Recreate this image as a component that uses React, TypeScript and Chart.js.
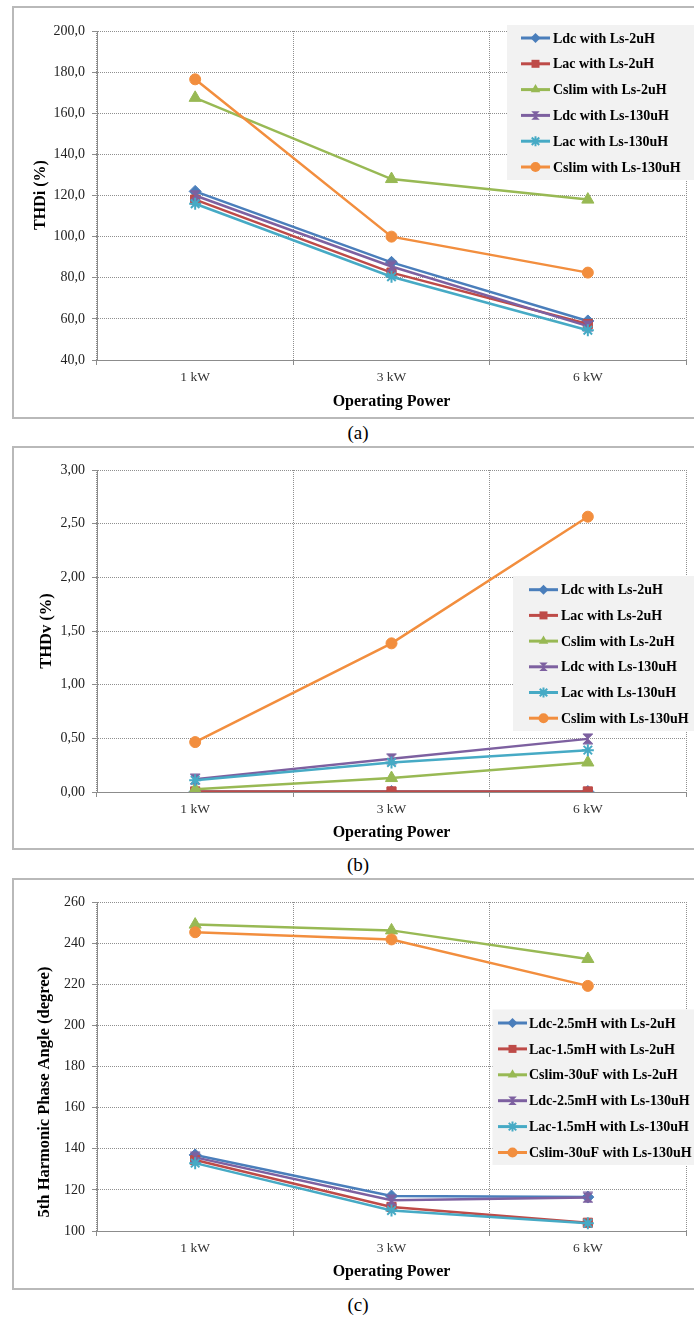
import React, { useEffect, useRef } from 'react';
import { Chart, registerables } from 'chart.js';

Chart.register(...registerables);

const FONT = "'Liberation Serif', 'Times New Roman', serif";

const categories = ['1 kW', '3 kW', '6 kW'];

const namesAB = [
  'Ldc with Ls-2uH',
  'Lac with Ls-2uH',
  'Cslim with Ls-2uH',
  'Ldc with Ls-130uH',
  'Lac with Ls-130uH',
  'Cslim with Ls-130uH',
];
const namesC = [
  'Ldc-2.5mH with Ls-2uH',
  'Lac-1.5mH with Ls-2uH',
  'Cslim-30uF with Ls-2uH',
  'Ldc-2.5mH with Ls-130uH',
  'Lac-1.5mH with Ls-130uH',
  'Cslim-30uF with Ls-130uH',
];

// (a) THDi (%)
const thdiLdc2 = [122, 87.5, 59];
const thdiLac2 = [118, 82.5, 57.5];
const thdiCslim2 = [167.5, 128, 118];
const thdiLdc130 = [120, 85.5, 56.5];
const thdiLac130 = [116, 80.5, 54.5];
const thdiCslim130 = [176.5, 100, 82.5];

// (b) THDv (%)
const thdvLdc2 = [0.004, 0.004, 0.004];
const thdvLac2 = [0.005, 0.005, 0.005];
const thdvCslim2 = [0.025, 0.13, 0.275];
const thdvLdc130 = [0.12, 0.31, 0.495];
const thdvLac130 = [0.11, 0.275, 0.39];
const thdvCslim130 = [0.465, 1.385, 2.565];

// (c) 5th harmonic phase angle (degree)
const phLdc2 = [137, 117, 116.5];
const phLac2 = [134.5, 111.7, 104];
const phCslim2 = [249, 246.2, 232.3];
const phLdc130 = [135.8, 115, 116.3];
const phLac130 = [133, 110, 103.8];
const phCslim130 = [245.3, 241.8, 219.2];

const COLORS = ['#4a7ebb', '#be4b48', '#98b954', '#7d60a0', '#46aac5', '#f28e3e'];
const MARKERS = ['rectRot', 'rect', 'triangle', 'hourglass', 'star', 'circle'];
const RADII: Record<string, number> = { rectRot: 6, rect: 6.5, triangle: 7, hourglass: 6, star: 6, circle: 5.5 };

function makeHourglass(color: string, size: number) {
  const c = document.createElement('canvas');
  c.width = size;
  c.height = size;
  const g = c.getContext('2d')!;
  g.fillStyle = color;
  g.strokeStyle = color;
  g.lineWidth = 1;
  g.beginPath();
  g.moveTo(1, 1);
  g.lineTo(size - 1, 1);
  g.lineTo(1, size - 1);
  g.lineTo(size - 1, size - 1);
  g.closePath();
  g.fill();
  g.stroke();
  return c;
}

function drawMarker(ctx: CanvasRenderingContext2D, style: string, x: number, y: number, color: string, r: number) {
  ctx.save();
  ctx.fillStyle = color;
  ctx.strokeStyle = color;
  ctx.lineWidth = 1;
  ctx.beginPath();
  if (style === 'rectRot') {
    ctx.moveTo(x, y - r);
    ctx.lineTo(x + r, y);
    ctx.lineTo(x, y + r);
    ctx.lineTo(x - r, y);
    ctx.closePath();
    ctx.fill();
  } else if (style === 'rect') {
    const s = r * 0.8;
    ctx.rect(x - s, y - s, 2 * s, 2 * s);
    ctx.fill();
  } else if (style === 'triangle') {
    ctx.moveTo(x, y - r);
    ctx.lineTo(x + r * 0.87, y + r * 0.5);
    ctx.lineTo(x - r * 0.87, y + r * 0.5);
    ctx.closePath();
    ctx.fill();
  } else if (style === 'hourglass') {
    const s = r * 0.85;
    ctx.moveTo(x - s, y - s);
    ctx.lineTo(x + s, y - s);
    ctx.lineTo(x - s, y + s);
    ctx.lineTo(x + s, y + s);
    ctx.closePath();
    ctx.fill();
  } else if (style === 'star') {
    ctx.lineWidth = 2;
    const s = r * 0.75;
    ctx.moveTo(x, y - r);
    ctx.lineTo(x, y + r);
    ctx.moveTo(x - s, y - s);
    ctx.lineTo(x + s, y + s);
    ctx.moveTo(x + s, y - s);
    ctx.lineTo(x - s, y + s);
    ctx.stroke();
  } else {
    ctx.arc(x, y, r, 0, Math.PI * 2);
    ctx.fill();
  }
  ctx.restore();
}

type LegendSpec = { x: number; y: number; w: number; h: number; row0: number; rowStep: number; sx0: number; sx1: number; tx: number };

type Spec = {
  frameTop: number;
  frameBottom: number;
  plotTop: number;
  plotBottom: number;
  yMin: number;
  yMax: number;
  yStep: number;
  decimals: number;
  yTitle: string;
  yTitleX: number;
  yTitleY: number;
  yTitleSize: number;
  xTitleY: number;
  names: string[];
  series: number[][];
  legend: LegendSpec;
  caption: string;
  captionY: number;
};

const specs: Spec[] = [
  {
    frameTop: 6, frameBottom: 419, plotTop: 31, plotBottom: 360,
    yMin: 40, yMax: 200, yStep: 20, decimals: 1,
    yTitle: 'THDi (%)', yTitleX: 41, yTitleY: 195, yTitleSize: 16, xTitleY: 401.5,
    names: namesAB,
    series: [thdiLdc2, thdiLac2, thdiCslim2, thdiLdc130, thdiLac130, thdiCslim130],
    legend: { x: 507, y: 25, w: 200, h: 155, row0: 38, rowStep: 25.8, sx0: 521, sx1: 550, tx: 553 },
    caption: '(a)', captionY: 433,
  },
  {
    frameTop: 446, frameBottom: 850, plotTop: 470, plotBottom: 792,
    yMin: 0, yMax: 3, yStep: 0.5, decimals: 2,
    yTitle: 'THDv (%)', yTitleX: 47, yTitleY: 631, yTitleSize: 16.5, xTitleY: 833,
    names: namesAB,
    series: [thdvLdc2, thdvLac2, thdvCslim2, thdvLdc130, thdvLac130, thdvCslim130],
    legend: { x: 513, y: 576, w: 200, h: 155, row0: 589.7, rowStep: 25.7, sx0: 529, sx1: 558, tx: 561 },
    caption: '(b)', captionY: 865,
  },
  {
    frameTop: 878, frameBottom: 1290, plotTop: 902, plotBottom: 1231,
    yMin: 100, yMax: 260, yStep: 20, decimals: 0,
    yTitle: '5th Harmonic Phase Angle (degree)', yTitleX: 45, yTitleY: 1092, yTitleSize: 16.5, xTitleY: 1271.5,
    names: namesC,
    series: [phLdc2, phLac2, phCslim2, phLdc130, phLac130, phCslim130],
    legend: { x: 492.5, y: 1009.5, w: 210, h: 155.5, row0: 1023, rowStep: 25.9, sx0: 498, sx1: 527, tx: 529 },
    caption: '(c)', captionY: 1305,
  },
];

const W = 694;
const AXIS_X = 97;
const PLOT_RIGHT = 688;
const TITLE_SIZE = 16;

function ChartPanel({ spec }: { spec: Spec }) {
  const ref = useRef<HTMLCanvasElement | null>(null);
  const H = spec.frameBottom - spec.frameTop;

  useEffect(() => {
    if (!ref.current) return;
    const top = spec.frameTop;
    const lg = spec.legend;
    const overlayPlugin = {
      id: 'customOverlay',
      afterDraw(chart: any) {
        const ctx: CanvasRenderingContext2D = chart.ctx;
        ctx.save();
        // y-axis title
        ctx.translate(spec.yTitleX, spec.yTitleY - top);
        ctx.rotate(-Math.PI / 2);
        ctx.fillStyle = '#000';
        ctx.font = `bold ${spec.yTitleSize}px ${FONT}`;
        ctx.textAlign = 'center';
        ctx.textBaseline = 'middle';
        ctx.fillText(spec.yTitle, 0, 0);
        ctx.restore();

        ctx.save();
        ctx.fillStyle = '#f2f2f2';
        ctx.fillRect(lg.x, lg.y - top, lg.w, lg.h);
        spec.names.forEach((name, i) => {
          const y = lg.row0 - top + i * lg.rowStep;
          ctx.strokeStyle = COLORS[i];
          ctx.lineWidth = 3;
          ctx.beginPath();
          ctx.moveTo(lg.sx0, y);
          ctx.lineTo(lg.sx1, y);
          ctx.stroke();
          drawMarker(ctx, MARKERS[i], (lg.sx0 + lg.sx1) / 2, y, COLORS[i], MARKERS[i] === 'triangle' ? 5.5 : 5);
          ctx.fillStyle = '#000';
          ctx.font = `bold 14px ${FONT}`;
          ctx.textBaseline = 'middle';
          ctx.textAlign = 'left';
          ctx.fillText(name, lg.tx, y + 1);
        });
        ctx.restore();
      },
    };

    const datasets = spec.series.map((data, i) => {
      const m = MARKERS[i];
      return {
        label: spec.names[i],
        data,
        borderColor: COLORS[i],
        backgroundColor: COLORS[i],
        borderWidth: 2.5,
        tension: 0,
        pointStyle: m === 'hourglass' ? makeHourglass(COLORS[i], 12) : m,
        pointRadius: RADII[m],
        pointBorderWidth: m === 'star' ? 2 : 1,
        pointBackgroundColor: COLORS[i],
        pointBorderColor: COLORS[i],
        order: 10 - i,
      };
    });

    const xHeight = H - (spec.plotBottom - top);
    const lh = TITLE_SIZE * 1.2;

    const chart = new Chart(ref.current, {
      type: 'line',
      data: { labels: categories, datasets: datasets as any },
      options: {
        animation: false,
        responsive: false,
        maintainAspectRatio: false,
        events: [],
        layout: { padding: { top: spec.plotTop - top, right: W - PLOT_RIGHT, left: 0, bottom: 0 } },
        plugins: { legend: { display: false }, tooltip: { enabled: false }, title: { display: false } },
        scales: {
          x: {
            type: 'category',
            offset: true,
            afterFit: (s: any) => { s.height = xHeight; },
            grid: {
              offset: true,
              color: '#8f8f8f',
              lineWidth: 1,
              drawTicks: true,
              tickLength: 5,
              tickColor: '#8c8c8c',
              tickBorderDash: [],
            },
            border: { display: true, color: '#8c8c8c', width: 1, dash: [1, 1] },
            ticks: {
              padding: 4,
              color: '#333',
              font: { family: FONT, size: 13.5 },
              maxRotation: 0,
            },
            title: {
              display: true,
              text: 'Operating Power',
              color: '#000',
              font: { family: FONT, size: TITLE_SIZE, weight: 'bold' },
              padding: { top: 0, bottom: spec.frameBottom - spec.xTitleY - lh / 2 },
            },
          },
          y: {
            type: 'linear',
            min: spec.yMin,
            max: spec.yMax,
            afterFit: (s: any) => { s.width = AXIS_X; },
            ticks: {
              stepSize: spec.yStep,
              padding: 7,
              color: '#222',
              font: { family: FONT, size: 14 },
              callback: (v: any) => Number(v).toFixed(spec.decimals).replace('.', ','),
            },
            grid: {
              color: '#8f8f8f',
              lineWidth: 1,
              drawTicks: true,
              tickLength: 5,
              tickColor: '#8c8c8c',
              tickBorderDash: [],
            },
            border: { display: true, color: '#8c8c8c', width: 1, dash: [1, 1] },
            title: { display: false },
          },
        },
      } as any,
      plugins: [overlayPlugin],
    });
    return () => chart.destroy();
  }, [spec]);

  return (
    <>
      <div
        style={{
          position: 'absolute',
          left: 12,
          top: spec.frameTop,
          width: 700,
          height: H,
          border: '2px solid #b9b9b9',
          boxSizing: 'border-box',
        }}
      />
      <canvas
        ref={ref}
        width={W}
        height={H}
        style={{ position: 'absolute', left: 0, top: spec.frameTop, width: W, height: H }}
      />
      <div
        style={{
          position: 'absolute',
          left: 308,
          width: 100,
          top: spec.captionY - 12,
          height: 24,
          lineHeight: '24px',
          textAlign: 'center',
          fontFamily: FONT,
          fontSize: 19,
          color: '#000',
        }}
      >
        {spec.caption}
      </div>
    </>
  );
}

export default function App() {
  return (
    <div
      style={{
        position: 'absolute',
        left: 0,
        top: 0,
        width: W,
        height: 1320,
        overflow: 'hidden',
        background: '#fff',
      }}
    >
      {specs.map((s, i) => (
        <ChartPanel key={i} spec={s} />
      ))}
    </div>
  );
}
